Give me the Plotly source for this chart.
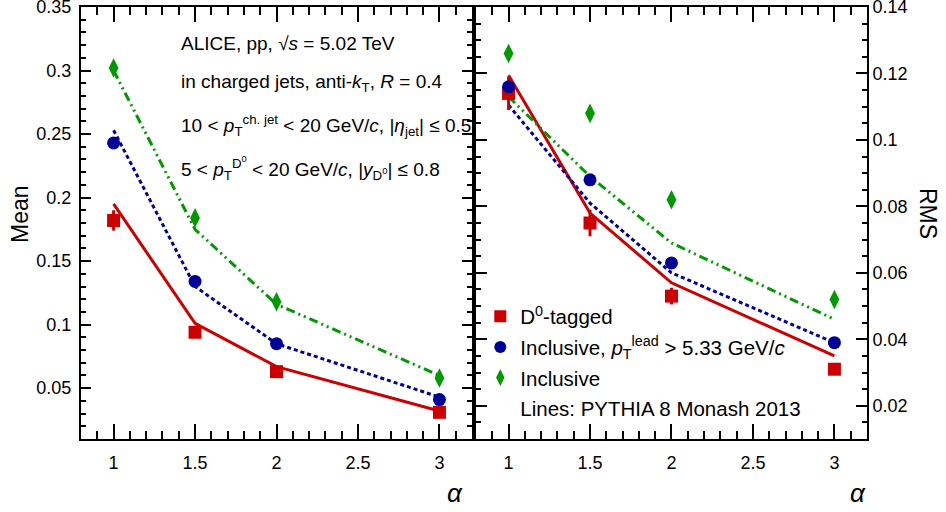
import plotly.graph_objects as go

# ---------------- data ----------------
alpha = [1, 1.5, 2, 3]

mean_d0 = [0.182, 0.094, 0.063, 0.031]
mean_d0_err = [0.008, 0.004, 0.003, 0.002]
mean_lead = [0.243, 0.134, 0.085, 0.041]
mean_lead_err = [0.003, 0.003, 0.003, 0.002]
mean_incl = [0.302, 0.184, 0.118, 0.058]
mean_incl_err = [0.003, 0.003, 0.003, 0.002]
mean_py_d0 = [0.195, 0.101, 0.067, 0.032]
mean_py_lead = [0.253, 0.130, 0.085, 0.043]
mean_py_incl = [0.300, 0.175, 0.116, 0.060]

rms_d0 = [0.114, 0.075, 0.053, 0.031]
rms_d0_err = [0.005, 0.004, 0.0025, 0.001]
rms_lead = [0.116, 0.088, 0.063, 0.039]
rms_lead_err = [0.001, 0.001, 0.001, 0.001]
rms_incl = [0.126, 0.108, 0.082, 0.052]
rms_incl_err = [0.001, 0.001, 0.001, 0.001]
rms_py_d0 = [0.1195, 0.078, 0.057, 0.035]
rms_py_lead = [0.1105, 0.081, 0.060, 0.039]
rms_py_incl = [0.113, 0.089, 0.069, 0.046]

names = ["D<sup>0</sup>-tagged",
         "Inclusive, <i>p</i><sub>T</sub><sup>lead</sup> > 5.33 GeV/<i>c</i>",
         "Inclusive"]
lines_label = "Lines: PYTHIA 8 Monash 2013"

RED, BLUE, GREEN = "#cc0000", "#000099", "#009900"
FONT = "Liberation Sans, Arial, Helvetica, sans-serif"

fig = go.Figure()

def add_panel(xa, ya, py, data, errs, legend):
    styles = [
        (RED, "solid", "square", 13),
        (BLUE, "4px,3px", "circle", 13),
        (GREEN, "9px,4px,2px,4px,2px,4px", "diamond-tall", 14),
    ]
    for yv, (c, d, s, sz) in zip(py, styles):
        fig.add_trace(go.Scatter(x=alpha, y=yv, mode="lines", xaxis=xa, yaxis=ya,
                                 line=dict(color=c, width=3, dash=d), showlegend=False,
                                 hoverinfo="skip"))
    for i, (yv, ev, (c, d, s, sz)) in enumerate(zip(data, errs, styles)):
        fig.add_trace(go.Scatter(x=alpha, y=yv, mode="markers", xaxis=xa, yaxis=ya,
                                 marker=dict(color=c, symbol=s, size=sz, line=dict(width=0)),
                                 error_y=dict(type="data", array=ev, color=c, thickness=3, width=0),
                                 name=names[i], showlegend=legend, legendgroup=f"g{i}"))

add_panel("x", "y", [mean_py_d0, mean_py_lead, mean_py_incl],
          [mean_d0, mean_lead, mean_incl], [mean_d0_err, mean_lead_err, mean_incl_err], False)
add_panel("x2", "y2", [rms_py_d0, rms_py_lead, rms_py_incl],
          [rms_d0, rms_lead, rms_incl], [rms_d0_err, rms_lead_err, rms_incl_err], True)

# legend-only entry for the lines label
fig.add_trace(go.Scatter(x=[None], y=[None], mode="markers", xaxis="x2", yaxis="y2",
                         marker=dict(color="rgba(0,0,0,0)", size=1),
                         name=lines_label, showlegend=True, legendgroup="g3"))

axis_common = dict(showline=True, linecolor="black", linewidth=2, mirror="allticks",
                   ticks="inside", tickcolor="black", showgrid=False, zeroline=False,
                   automargin=False, ticklabeloverflow="allow",
                   tickfont=dict(family=FONT, size=18, color="black"))

xcommon = dict(axis_common, range=[0.8, 3.2], tick0=1, dtick=0.5, ticklen=15, tickwidth=1.5,
               minor=dict(dtick=0.1, ticklen=8, ticks="inside", tickcolor="black", tickwidth=1.5,
                          showgrid=False),
               ticklabelstandoff=6)

fig.update_layout(
    width=946, height=512,
    margin=dict(l=81, r=79, t=7, b=73, autoexpand=False),
    paper_bgcolor="white", plot_bgcolor="white",
    font=dict(family=FONT, color="black"),
    xaxis=dict(xcommon, domain=[0, 0.4975], anchor="y"),
    xaxis2=dict(xcommon, domain=[0.5025, 1], anchor="y2"),
    yaxis=dict(axis_common, range=[0.01, 0.35001], tick0=0, dtick=0.05, ticklen=10, tickwidth=1.5,
               minor=dict(dtick=0.01, ticklen=5, ticks="inside", tickcolor="black", tickwidth=1.5,
                          showgrid=False),
               anchor="x", ticklabelstandoff=4),
    yaxis2=dict(axis_common, range=[0.01, 0.14001], tick0=0, dtick=0.02, ticklen=11, tickwidth=1.5,
                minor=dict(dtick=0.005, ticklen=5, ticks="inside", tickcolor="black", tickwidth=1.5,
                           showgrid=False),
                anchor="x2", side="right", ticklabelstandoff=0),
    legend=dict(x=0.508, y=0.33, xanchor="left", yanchor="top",
                font=dict(family=FONT, size=20.5, color="black"),
                bgcolor="rgba(0,0,0,0)", traceorder="grouped", tracegroupgap=1,
                itemsizing="constant"),
    showlegend=True,
)

ann_font = dict(family=FONT, size=19, color="black")
texts = [
    "ALICE, pp, √<i>s</i> = 5.02 TeV",
    "in charged jets, anti-<i>k</i><sub>T</sub>, <i>R</i> = 0.4",
    "10 < <i>p</i><sub>T</sub><sup>ch. jet</sup> < 20 GeV/<i>c</i>, |<i>η</i><sub>jet</sub>| ≤ 0.5",
    "5 < <i>p</i><sub>T</sub><sup>D<sup>0</sup></sup> < 20 GeV/<i>c</i>, |<i>y</i><sub>D<sup>0</sup></sub>| ≤ 0.8",
]
ys_px = [43, 83, 126, 168]
for t, yp in zip(texts, ys_px):
    fig.add_annotation(text=t, xref="paper", yref="paper", x=(179 - 81) / 786,
                       y=(439 - yp) / 432, xanchor="left", yanchor="middle",
                       showarrow=False, font=ann_font)

fig.add_annotation(text="Mean", xref="paper", yref="paper", x=(20 - 81) / 786,
                   y=(439 - 214) / 432, textangle=-90, showarrow=False,
                   xanchor="center", yanchor="middle",
                   font=dict(family=FONT, size=23, color="black"))
fig.add_annotation(text="RMS", xref="paper", yref="paper", x=(928 - 81) / 786,
                   y=(439 - 213) / 432, textangle=90, showarrow=False,
                   xanchor="center", yanchor="middle",
                   font=dict(family=FONT, size=23, color="black"))
for xp in [455, 858]:
    fig.add_annotation(text="<i>α</i>", xref="paper", yref="paper", x=(xp - 81) / 786,
                       y=(439 - 493) / 432, showarrow=False,
                       xanchor="center", yanchor="middle",
                       font=dict(family=FONT, size=26, color="black"))

fig.write_html("out.html", config={"displayModeBar": False},
               post_script="document.body.style.margin='0';document.body.style.padding='0';")
